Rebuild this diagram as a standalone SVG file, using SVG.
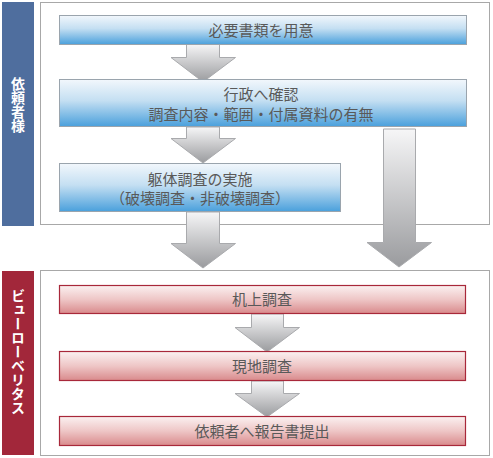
<svg xmlns="http://www.w3.org/2000/svg" width="493" height="458" viewBox="0 0 493 458">
<defs>
<linearGradient id="gBlue" x1="0" y1="0" x2="0" y2="1">
<stop offset="0" stop-color="#f2f7fc"/>
<stop offset="0.45" stop-color="#c4dff2"/>
<stop offset="1" stop-color="#4aa0dc"/>
</linearGradient>
<linearGradient id="gRed" x1="0" y1="0" x2="0" y2="1">
<stop offset="0" stop-color="#fbf1f1"/>
<stop offset="0.5" stop-color="#eec6c6"/>
<stop offset="1" stop-color="#d98a8c"/>
</linearGradient>
<linearGradient id="gArrow" x1="0" y1="0" x2="0" y2="1">
<stop offset="0" stop-color="#f6f6f7"/>
<stop offset="1" stop-color="#9a9b9e"/>
</linearGradient>
<style>
.panel{fill:#fff;stroke:#a8a8a8;stroke-width:1}
.bbox{fill:url(#gBlue);stroke:#9aa4ad;stroke-width:1}
.rbox{fill:url(#gRed);stroke:#a8283a;stroke-width:1.2}
.arrow{fill:url(#gArrow);stroke:#a9aaad;stroke-width:1}
.t{font-family:"Noto Sans CJK JP","Noto Sans",sans-serif;font-size:15px;fill:#595959;text-anchor:middle}
.side{font-family:"Noto Sans CJK JP","Noto Sans",sans-serif;font-size:14px;fill:#fff;font-weight:bold;writing-mode:vertical-rl;text-anchor:middle}
</style>
</defs>
<rect x="2" y="2" width="32" height="224" fill="#4f6e9e"/>
<text class="side" x="18" y="105">依頼者様</text>
<rect x="2" y="271" width="32" height="184" fill="#a2273a"/>
<text class="side" x="18" y="352">ビューローベリタス</text>
<rect class="panel" x="40.5" y="2.5" width="449" height="222"/>
<rect class="panel" x="40.5" y="270.5" width="449" height="185"/>
<g id="connectors">
<path class="arrow" d="M186.5,44 H219.5 V57.5 H235.5 L203,82 L171,57.5 H186.5 Z"/>
<path class="arrow" d="M186.5,127 H219.5 V138.5 H235.5 L203,163 L171,138.5 H186.5 Z"/>
<path class="arrow" d="M186.5,212 H219.5 V243.5 H235.5 L203,268 L171,243.5 H186.5 Z"/>
<path class="arrow" d="M383.5,129 H415.5 V242.5 H431.5 L399,267 L367,242.5 H383.5 Z"/>
<path class="arrow" d="M251.5,314 H283.5 V327.5 H299.5 L267,352 L235,327.5 H251.5 Z"/>
<path class="arrow" d="M251.5,381 H283.5 V393.5 H299.5 L267,417 L235,393.5 H251.5 Z"/>
</g>
<g id="n1"><rect class="bbox" x="59.5" y="15.5" width="407" height="29"/><text class="t" x="261" y="35.5">必要書類を用意</text></g>
<g id="n2"><rect class="bbox" x="59.5" y="79.5" width="407" height="47"/><text class="t" x="261" y="99.5">行政へ確認</text><text class="t" x="261" y="120">調査内容・範囲・付属資料の有無</text></g>
<g id="n3"><rect class="bbox" x="59.5" y="163.5" width="281" height="48"/><text class="t" x="200" y="185">躯体調査の実施</text><text class="t" x="200" y="204">（破壊調査・非破壊調査）</text></g>
<g id="n4"><rect class="rbox" x="59.5" y="285.5" width="406" height="28"/><text class="t" x="262" y="305">机上調査</text></g>
<g id="n5"><rect class="rbox" x="59.5" y="351.5" width="406" height="29"/><text class="t" x="262" y="371.5">現地調査</text></g>
<g id="n6"><rect class="rbox" x="59.5" y="416.5" width="406" height="29"/><text class="t" x="262" y="436.5">依頼者へ報告書提出</text></g>
</svg>
